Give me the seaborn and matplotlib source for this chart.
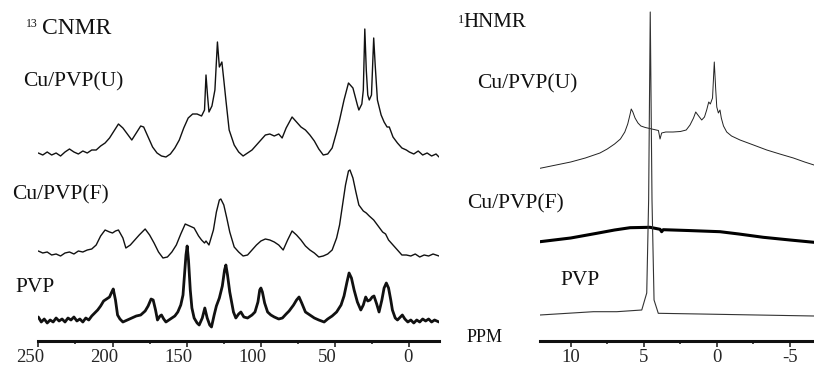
import numpy as np
import pandas as pd
import matplotlib
matplotlib.use('Agg')
import matplotlib.pyplot as plt
import matplotlib.transforms as mtransforms
import seaborn as sns

# ---------------- 13C NMR (ppm, intensity above own baseline) ----------------
c_ppm_u = [250, 247, 244, 241, 238, 235, 232, 229, 226, 223, 220, 217, 214, 211, 208, 205, 202, 199,
           196, 193, 190, 187, 184, 181, 179, 176, 173, 170, 167, 164, 161, 158, 155, 152, 149, 146,
           143, 140, 138, 137, 136, 135, 133, 131, 129.3, 128, 126.3, 125, 123.6, 121.4, 118, 115,
           112, 109, 106, 103, 100, 97, 94, 91, 88, 85.7, 83, 79, 76, 73, 70, 67, 64, 61, 58, 55,
           52, 49, 47, 44, 41, 38, 35, 34, 32, 31, 30, 29, 28, 27, 25.5, 24, 23, 21.5, 19, 17, 15,
           13.5, 11, 8, 5, 2, 0, -3, -6, -9, -12, -15, -18, -20]
c_int_u = [2, 0, 3, 0, 2, -1, 3, 6, 3, 1, 4, 2, 5, 5, 9, 12, 17, 24,
           31, 27, 21, 15, 22, 29, 28, 18, 8, 2, -1, -2, 1, 7, 15, 27, 37, 41,
           41, 39, 45, 80, 60, 43, 49, 65, 113, 88, 93, 75, 55, 25, 10, 3,
           -1, 2, 5, 10, 15, 20, 21, 19, 21, 17, 27, 38, 33, 28, 25, 20, 14, 6, 0, 1,
           7, 23, 35, 55, 72, 67, 50, 45, 51, 65, 126, 85, 60, 55, 60, 117, 90, 55, 40, 33, 28,
           28, 18, 12, 7, 5, 3, 1, 4, 0, 2, -1, 1, -2]

c_ppm_f = [250, 247, 244, 241, 238, 235, 232, 229, 226, 223, 220, 217, 214, 211, 208, 205, 202, 200,
           198, 196, 193, 191, 188, 185, 182, 178, 175, 172, 169, 166, 163, 160, 157, 154, 151, 148,
           145, 142, 140, 138, 137, 135, 132, 130, 128, 127, 125, 123, 121, 118, 115, 112, 109, 106,
           103, 100, 97, 94, 91, 88, 85, 82, 79, 76, 73, 70, 67, 64, 61, 58, 55, 52, 49, 47, 45, 43,
           41, 40, 38, 36, 34, 31, 29, 27, 24, 21, 18, 16, 14, 11, 8, 5, 2, -1, -4, -7, -10, -13,
           -16, -20]
c_int_f = [5, 3, 4, 1, 2, 0, 3, 4, 2, 5, 4, 6, 7, 11, 20, 26, 24, 23,
           25, 26, 18, 8, 11, 16, 21, 27, 21, 13, 4, -2, -1, 4, 11, 22, 32, 30,
           28, 20, 16, 13, 15, 11, 26, 44, 56, 57, 51, 38, 24, 9, 4, 0, 1, 6,
           11, 15, 17, 16, 14, 11, 6, 16, 25, 21, 16, 10, 6, 3, -1, 0, 2, 6, 18, 31, 51, 71,
           85, 86, 78, 64, 51, 45, 43, 40, 36, 30, 24, 22, 16, 11, 6, 1, 1, 0, 2, -1, 1, 0,
           2, 0]

c_ppm_p = [250, 248, 246, 244, 242, 240, 238, 236, 234, 232, 230, 228, 226, 224, 222, 220, 218, 216,
           214, 212, 210, 208, 206, 204, 202, 200.5, 199.5, 198, 196.6, 195, 193, 190, 187, 184, 181,
           178, 176, 174, 172.6, 171, 169.7, 168, 167, 165.5, 164, 161, 158, 156, 154, 152.5, 151.5,
           150.5, 149.7, 148.8, 147.6, 146.5, 145, 143, 141.6, 139.5, 137.8, 136.2, 134.5, 133.3,
           131.5, 130, 128, 126, 124.5, 123.6, 122.5, 121, 120, 118.5, 116.9, 115, 113.5, 111.5, 109,
           106, 104, 102, 100.8, 100, 99, 97.5, 95.5, 93.3, 91, 88, 85.5, 83, 81, 78, 76, 74.3, 72.5,
           70, 67, 64, 61, 57.4, 55, 52, 49, 46, 44, 42, 40.6, 39, 37.2, 35, 32.7, 31, 29.4, 28, 26.5,
           25, 23.8, 22, 20.4, 18.5, 17, 15.5, 14, 12.5, 11.4, 9.5, 8, 6, 4.7, 3, 1, -1, -3, -5, -7,
           -9, -11, -13, -15, -17, -20]
c_int_p = [4, -1, 2, -2, 1, -1, 3, 0, 2, -1, 3, 1, 4, 0, 2, -1, 3, 1,
           5, 8, 11, 15, 20, 22, 24, 29, 32, 21, 6, 2, -1, 1, 3, 5, 6,
           10, 15, 22, 21, 11, 1, 5, 6, 2, -1, 2, 5, 9, 16, 26, 46,
           66, 75, 61, 31, 13, 3, -2, -4, 3, 13, 3, -4, -6,
           6, 15, 23, 35, 51, 56, 46, 29, 21, 9, 3, 7, 9, 4, 3,
           6, 9, 19, 31, 33, 29, 18, 9, 6, 4, 2, 3, 7, 10, 16, 21, 24, 18,
           9, 6, 3, 1, -1, 2, 5, 9, 16, 25, 39, 48, 43, 31, 19, 11, 16, 24, 20, 21,
           24, 25, 17, 9, 21, 33, 38, 33, 21, 11, 3, 1, 4, 6, 2, -1, 1, -2, 1, -1,
           2, 0, 2, -1, 1, -1]

# ---------------- 1H NMR ----------------
h_ppm_u = [12.1, 11, 10, 9, 8, 7.5, 7, 6.6, 6.3, 6.1, 5.95, 5.86, 5.75, 5.6, 5.4, 5.2, 4.9, 4.6,
           4.3, 4.0, 3.89, 3.78, 3.5, 3.0, 2.5, 2.1, 1.84, 1.6, 1.45, 1.3, 1.04, 0.85, 0.7, 0.56,
           0.45, 0.3, 0.18, 0.08, 0.01, -0.1, -0.21, -0.3, -0.45, -0.67, -1.0, -1.58, -2.5, -3.41,
           -4.3, -5.23, -6.0, -6.64]
h_int_u = [1.7, 5, 8, 12, 17, 21, 26, 31, 38, 46, 55, 61, 58, 52, 47, 44, 42.5, 41.5,
           40.5, 39.5, 31, 37, 38, 38, 38.5, 40, 45, 52, 58, 55, 50, 53, 60, 68,
           66, 72, 108, 80, 63, 57, 60, 52, 44, 38, 34, 30, 25, 20,
           16, 12, 8, 5]

h_ppm_f = [12.1, 10, 8.22, 7, 5.94, 4.58, 3.89, 3.78, 3.67, 2, -0.21, -1.5, -3.17, -5, -6.64]
h_int_f = [1.3, 5, 9.7, 13, 15.3, 15.7, 13.7, 11.3, 13.3, 12.5, 11.3, 9, 5.7, 3, 0.7]

h_ppm_p = [12.1, 8.45, 6.85, 5.14, 4.80, 4.67, 4.56, 4.44, 4.30, 4.01, 1.16, -6.64]
h_int_p = [1, 4.3, 4.3, 6, 23, 116, 304, 116, 16, 2.7, 2, 0]

# stacking offsets for each trace
c_offsets = {'Cu/PVP(U)': 188, 'Cu/PVP(F)': 87, 'PVP': 22}
h_offsets = {'Cu/PVP(U)': 173, 'Cu/PVP(F)': 100, 'PVP': 27}

c_ticks = [250, 200, 150, 100, 50, 0]
c_minor = [225, 175, 125, 75, 25]
h_ticks = [10, 5, 0, -5]
h_minor = [7.5, 2.5, -2.5]

sns.set_style('white')
plt.rcParams['font.family'] = ['Liberation Serif', 'DejaVu Serif']

W, H = 814, 372
fig = plt.figure(figsize=(W / 100, H / 100), dpi=100)
axc = fig.add_axes([38.3 / W, 31 / H, 401 / W, 341 / H])
axh = fig.add_axes([540 / W, 31 / H, 274 / W, 341 / H])

sns.lineplot(x=c_ppm_u, y=np.array(c_int_u) + c_offsets['Cu/PVP(U)'], ax=axc, color='#111111',
             lw=1.0, sort=False, estimator=None)
sns.lineplot(x=c_ppm_f, y=np.array(c_int_f) + c_offsets['Cu/PVP(F)'], ax=axc, color='#111111',
             lw=1.0, sort=False, estimator=None)
sns.lineplot(x=c_ppm_p, y=np.array(c_int_p) + c_offsets['PVP'], ax=axc, color='#111111',
             lw=2.0, sort=False, estimator=None)

sns.lineplot(x=h_ppm_u, y=np.array(h_int_u) + h_offsets['Cu/PVP(U)'], ax=axh, color='#222222',
             lw=0.7, sort=False, estimator=None)
sns.lineplot(x=h_ppm_f, y=np.array(h_int_f) + h_offsets['Cu/PVP(F)'], ax=axh, color='#000000',
             lw=2.2, sort=False, estimator=None)
sns.lineplot(x=h_ppm_p, y=np.array(h_int_p) + h_offsets['PVP'], ax=axh, color='#333333',
             lw=0.8, sort=False, estimator=None)

for ax, lim, major, minor in [(axc, (250, -20.2), c_ticks, c_minor),
                              (axh, (12.1, -6.64), h_ticks, h_minor)]:
    ax.set_xlim(*lim)
    ax.set_ylim(2, 343)
    for s in ['left', 'right', 'top']:
        ax.spines[s].set_visible(False)
    ax.spines['bottom'].set_linewidth(2.2)
    ax.spines['bottom'].set_color('#111111')
    ax.set_yticks([])
    ax.set_xticks(major)
    ax.set_xticklabels([str(t) for t in major])
    ax.set_xticks(minor, minor=True)
    ax.tick_params(axis='x', which='major', direction='out', length=4.5, width=1.2,
                   pad=1.5, labelsize=13.5, bottom=True)
    ax.tick_params(axis='x', which='minor', direction='out', length=2.5, width=1.2, bottom=True)
    ax.set_xlabel('')
    ax.set_ylabel('')
    ax.patch.set_alpha(0)

# the 13C labels sit a little left of their ticks in the original
for lab in axc.get_xticklabels():
    dx = -8 if len(lab.get_text()) > 1 else -1
    lab.set_transform(lab.get_transform() + mtransforms.ScaledTranslation(dx / 100, 0, fig.dpi_scale_trans))


def put(x, y, s, size):
    fig.text(x / W, 1 - y / H, s, fontsize=size, ha='left', va='baseline', color='#111111')


put(26, 26.7, '13', 8.5)
put(42.3, 34, 'CNMR', 17)
put(458, 23, '1', 9)
put(463.3, 27.3, 'HNMR', 15)
put(22.7, 86, 'Cu/PVP(U)', 15.5)
put(11.7, 199.3, 'Cu/PVP(F)', 15.5)
put(15, 291.7, 'PVP', 15.5)
put(476.7, 88.3, 'Cu/PVP(U)', 15.5)
put(466.7, 208.3, 'Cu/PVP(F)', 15.5)
put(560, 285, 'PVP', 15.5)
put(466.7, 342, 'PPM', 13)

fig.savefig('out.png', dpi=100)
